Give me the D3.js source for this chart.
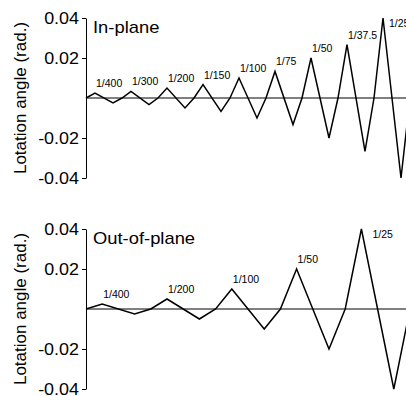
<!DOCTYPE html>
<html>
<head>
<meta charset="utf-8">
<script src="https://cdn.jsdelivr.net/npm/d3@7"></script>
<style>
  body { margin: 0; background: #fff; }
  svg { display: block; font-family: "Liberation Sans", Arial, sans-serif; }
</style>
</head>
<body>
<div id="chart"></div>
<script>
// drift ratio labels per loading cycle
const inPlaneLabels = ['1/400', '1/300', '1/200', '1/150', '1/100', '1/75', '1/50', '1/37.5', '1/25']
const inPlanePeaks = [0.0025, 0.0033, 0.005, 0.0067, 0.01, 0.0133, 0.02, 0.0267, 0.04]
const inPlaneTroughs = [-0.0025, -0.0033, -0.005, -0.0067, -0.01, -0.0133, -0.02, -0.0267, -0.04]

const outPlaneLabels = ['1/400', '1/200', '1/100', '1/50', '1/25']
const outPlanePeaks = [0.0025, 0.005, 0.01, 0.02, 0.04]
const outPlaneTroughs = [-0.0025, -0.005, -0.01, -0.02, -0.04]

const yTicks = [-0.04, -0.02, 0.02, 0.04]

const width = 406, height = 396

const svg = d3.select('#chart').append('svg')
  .attr('width', width)
  .attr('height', height)

// the original lettering is a bit wider than Arial
const stretch = (sel, k) => sel.each(function() {
  const len = this.getComputedTextLength()
  d3.select(this).attr('textLength', len * k).attr('lengthAdjust', 'spacingAndGlyphs')
})

const cyclePoints = (peaks, troughs) => {
  // one cycle: start at zero, peak at 1/4, trough at 3/4
  let pts = []
  peaks.forEach((p, k) => {
    pts.push({x: k, y: 0})
    pts.push({x: k + 0.25, y: p, peak: true, k})
    pts.push({x: k + 0.75, y: troughs[k]})
  })
  pts.push({x: peaks.length, y: 0})
  return pts
}

const drawPanel = (top, title, labels, peaks, troughs, lastOffset) => {
  const g = svg.append('g')
  const y = d3.scaleLinear().domain([-0.04, 0.04]).range([top + 160, top])
  const x = d3.scaleLinear().domain([0, peaks.length]).range([86, 410])

  // zero reference line
  g.append('line')
    .attr('x1', x(0)).attr('x2', x(peaks.length))
    .attr('y1', y(0)).attr('y2', y(0))
    .attr('stroke', '#000').attr('stroke-width', 1)

  const axis = d3.axisLeft(y)
    .tickValues(yTicks)
    .tickSize(4)
    .tickSizeOuter(0)
    .tickPadding(3)
    .tickFormat(d => d.toFixed(2))
  const ax = g.append('g').attr('transform', `translate(${x(0)},0)`).call(axis)
  ax.select('.domain').attr('stroke', '#000')
  ax.selectAll('.tick line').attr('stroke', '#000')
  ax.selectAll('.tick text')
    .attr('fill', '#000')
    .style('font-size', '16px')
    .style('font-family', '"Liberation Sans", Arial, sans-serif')
    .call(stretch, 1.12)

  const pts = cyclePoints(peaks, troughs)
  const line = d3.line().x(d => x(d.x)).y(d => y(d.y))
  g.append('path')
    .datum(pts)
    .attr('d', line)
    .attr('fill', 'none')
    .attr('stroke', '#000')
    .attr('stroke-width', 1.5)
    .attr('stroke-linejoin', 'miter')

  // drift labels above each peak
  g.selectAll('text.drift')
    .data(pts.filter(d => d.peak))
    .enter().append('text')
    .attr('class', 'drift')
    .attr('x', d => x(d.x) + (d.k === peaks.length - 1 ? lastOffset : 1))
    .attr('y', d => y(d.y) + (d.k === peaks.length - 1 ? 9 : -6))
    .style('font-size', '10.5px')
    .text(d => labels[d.k])

  g.append('text')
    .attr('x', 93)
    .attr('y', top + 15)
    .style('font-size', '17px')
    .text(title)
    .call(stretch, 1.08)

  g.append('text')
    .attr('transform', `translate(26,${y(0)}) rotate(-90)`)
    .attr('text-anchor', 'middle')
    .style('font-size', '17px')
    .text('Lotation angle (rad.)')
}

drawPanel(18, 'In-plane', inPlaneLabels, inPlanePeaks, inPlaneTroughs, 6)
drawPanel(229, 'Out-of-plane', outPlaneLabels, outPlanePeaks, outPlaneTroughs, 11)
</script>
</body>
</html>
